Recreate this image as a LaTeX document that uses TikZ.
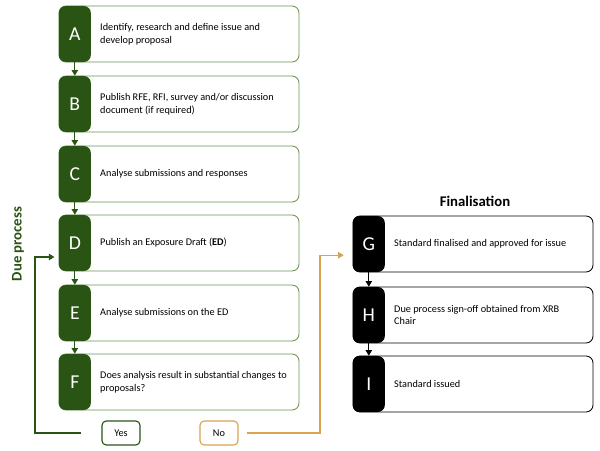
\documentclass[tikz,border=0pt]{standalone}
\usepackage{fontspec}
\setmainfont{Carlito}
\usetikzlibrary{arrows.meta,positioning}
\definecolor{duegreen}{RGB}{42,84,20}
\definecolor{edgegreen}{RGB}{104,146,80}
\definecolor{noorange}{RGB}{217,163,80}
\begin{document}
\begin{tikzpicture}[x=0.025cm,y=-0.025cm,
      card/.style={draw=#1,line width=0.6pt,rounded corners=5pt,
        minimum width=6cm,minimum height=1.4cm},
      tag/.style={fill=#1,text=white,rounded corners=5pt,anchor=west,
        minimum width=0.8cm,minimum height=1.4cm,
        font=\fontsize{14}{14}\selectfont},
      desc/.style={anchor=west,align=left,inner sep=0pt,
        font=\fontsize{7.3}{9.2}\selectfont},
      choice/.style={draw=#1,line width=0.8pt,rounded corners=3pt,
        minimum width=0.95cm,minimum height=0.6cm,
        font=\fontsize{7.3}{9}\selectfont},
      stepline/.style={-{Triangle[length=4pt,width=4.5pt]},line width=0.9pt}]
      \useasboundingbox (0,0) rectangle (600,451);
      % due process column
      \foreach \n/\y/\t in {A/34/{Identify, research and define issue and\\develop proposal},
          B/104/{Publish RFE, RFI, survey and/or discussion\\document (if required)},
          C/174/{Analyse submissions and responses},
          D/243/{Publish an Exposure Draft (\textbf{ED})},
          E/313/{Analyse submissions on the ED},
          F/382/{Does analysis result in substantial changes to\\proposals?}}
      {
        \node[card=edgegreen] (\n card) at (179,\y) {};
        \node[tag=duegreen] (\n) at (\n card.west) {\n};
        \node[desc] (\n text) at ([xshift=0.22cm]\n.east) {\t};
      }
      % finalisation column
      \foreach \n/\y/\t in {G/244/{Standard finalised and approved for issue},
          H/315/{Due process sign-off obtained from XRB\\Chair},
          I/384/{Standard issued}}
      {
        \node[card=black] (\n card) at (473,\y) {};
        \node[tag=black] (\n) at (\n card.west) {\n};
        \node[desc] (\n text) at ([xshift=0.22cm]\n.east) {\t};
      }
      \draw[stepline,duegreen] (A) -- (B);
      \draw[stepline,duegreen] (B) -- (C);
      \draw[stepline,duegreen] (C) -- (D);
      \draw[stepline,duegreen] (D) -- (E);
      \draw[stepline,duegreen] (E) -- (F);
      \draw[stepline] (G) -- (H);
      \draw[stepline] (H) -- (I);
      \node[rotate=90,text=duegreen,font=\bfseries\fontsize{10.5}{12}\selectfont]
        (due) at (18,244) {Due process};
      \node[font=\bfseries\fontsize{10.5}{12}\selectfont] (final) at (475,201) {Finalisation};
      % decision
      \node[choice=duegreen] (yes) at (121,433) {Yes};
      \node[choice=noorange] (no) at (219,433) {No};
      \coordinate (loopback) at (35,433);
      \coordinate (forward) at (320,433);
      \draw[stepline,duegreen,shorten <=0.5cm,shorten >=0.1cm]
        (yes.west) -- (loopback) |- ([yshift=-0.35cm]D.west);
      \draw[stepline,noorange,shorten <=0.2cm,shorten >=0.22cm]
        (no.east) -- (forward) |- ([yshift=-0.28cm]G.west);
\end{tikzpicture}
\end{document}
